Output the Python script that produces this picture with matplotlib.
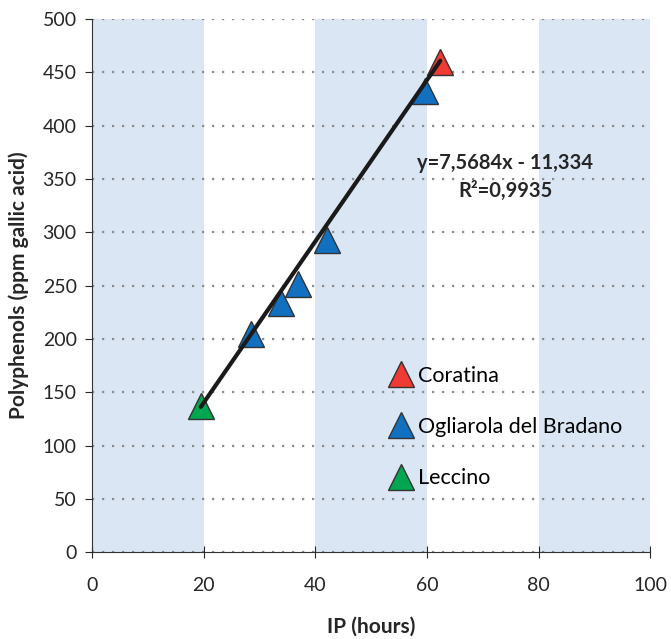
import matplotlib.pyplot as plt

plt.rcParams['font.family'] = ['Lato', 'DejaVu Sans']

# data
coratina_x = [62.4]
coratina_y = [460]
ogliarola_x = [28.5, 33.9, 36.9, 42.1, 59.7]
ogliarola_y = [205, 234, 252, 293, 433]
leccino_x = [19.5]
leccino_y = [137]
slope = 7.5684
intercept = -11.334
bands = [(0, 20), (40, 60), (80, 100)]

fig = plt.figure(figsize=(6.71, 6.39), dpi=100)
ax = fig.add_axes([0.137, 0.136, 0.832, 0.834])

for a, b in bands:
    ax.axvspan(a, b, color='#dae6f4', zorder=0, lw=0)

for yv in range(0, 501, 50):
    ax.axhline(yv, color='#8c8c8c', ls=(0, (1, 3.5)), lw=1.6, zorder=1)

all_x = coratina_x + ogliarola_x + leccino_x
x0, x1 = min(all_x), max(all_x)
ax.plot([x0, x1], [slope * x0 + intercept, slope * x1 + intercept],
        color='#1a1a1a', lw=3, zorder=4, solid_capstyle='round')

ms = 19
ax.plot(coratina_x, coratina_y, '^', ms=ms, color='#ef3b33', mec='#333333', mew=1, ls='none', zorder=3, label='Coratina')
ax.plot(ogliarola_x, ogliarola_y, '^', ms=ms, color='#1170c0', mec='#333333', mew=1, ls='none', zorder=3, label='Ogliarola del Bradano')
ax.plot(leccino_x, leccino_y, '^', ms=ms, color='#00a650', mec='#333333', mew=1, ls='none', zorder=3, label='Leccino')

ax.legend(loc='upper left', bbox_to_anchor=(0.512, 0.366), frameon=False, fontsize=15.5,
          handletextpad=0.1, labelspacing=1.45, handlelength=1.35, borderaxespad=0)

ax.text(74, 365, 'y=7,5684x - 11,334', fontsize=14.5, fontweight='bold', ha='center', va='center', color='#262626')
ax.text(74, 339, 'R²=0,9935', fontsize=14.5, fontweight='bold', ha='center', va='center', color='#262626')

ax.set_xlim(0, 100)
ax.set_ylim(0, 500)
ax.set_xticks(range(0, 101, 20))
ax.set_yticks(range(0, 501, 50))
ax.tick_params(labelsize=14, colors='#262626', length=5)
ax.tick_params(axis='y', pad=6)
ax.tick_params(axis='x', direction='inout', length=8, pad=14)
for s in ['top', 'right']:
    ax.spines[s].set_visible(False)
ax.spines['left'].set_color('#333333')
ax.spines['bottom'].set_color('#333333')
ax.set_xlabel('IP (hours)', fontsize=15, fontweight='bold', labelpad=16, color='#262626')
ax.set_ylabel('Polyphenols (ppm gallic acid)', fontsize=15, fontweight='bold', labelpad=10, color='#262626')

fig.savefig('out.png', dpi=100)
